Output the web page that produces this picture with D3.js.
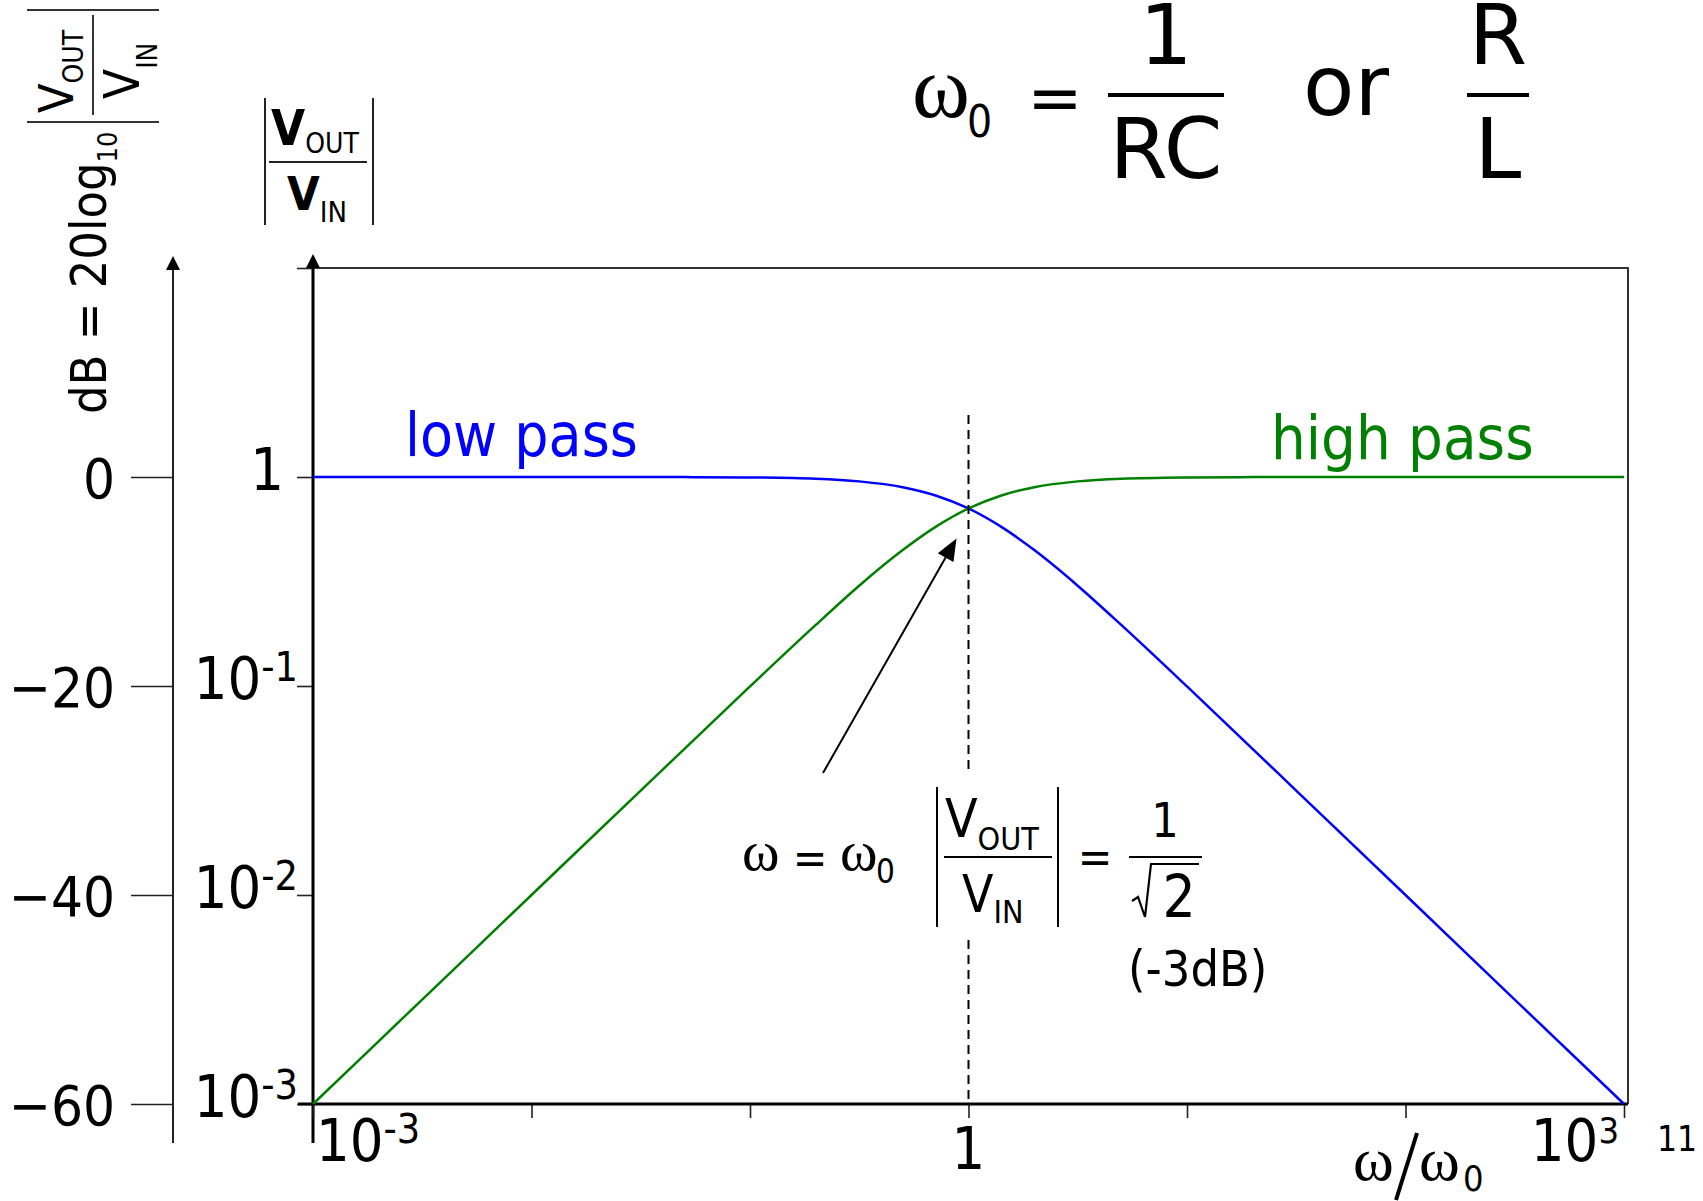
<!DOCTYPE html>
<html>
<head>
<meta charset="utf-8">
<script src="https://cdn.jsdelivr.net/npm/d3@7"></script>
<style>
  html, body { margin: 0; padding: 0; background: #fff; }
  svg { display: block; }
  text { font-stretch: condensed; }
  text.wide { font-stretch: normal; }
</style>
</head>
<body>
<script>
// Normalised frequency ω/ω0 and the magnitude |Vout/Vin| of the two first-order filters
const ratio    = [0.001, 0.00316, 0.01, 0.0316, 0.05, 0.1, 0.2, 0.316, 0.5, 0.707, 1, 1.414, 2, 3.16, 5, 10, 20, 31.6, 100, 316, 1000];
const lowPass  = [1, 1, 1, 0.9995, 0.9988, 0.995, 0.981, 0.953, 0.894, 0.816, 0.707, 0.577, 0.447, 0.302, 0.196, 0.0995, 0.0499, 0.0316, 0.01, 0.00316, 0.001];
const highPass = [0.001, 0.00316, 0.01, 0.0316, 0.0499, 0.0995, 0.196, 0.302, 0.447, 0.577, 0.707, 0.816, 0.894, 0.953, 0.981, 0.995, 0.9988, 0.9995, 1, 1, 1];

// Axis ticks and their labels
const freqTicks = [1e-3, 1e-2, 1e-1, 1, 10, 100, 1000];
const freqLabelValues = [1e-3, 1, 1000];
const freqLabelBase = ["10", "1", "10"];
const freqLabelExp = ["-3", "", "3"];

const magTicks = [1e-3, 1e-2, 1e-1, 1, 10];
const magLabelValues = [1e-3, 1e-2, 1e-1, 1];
const magLabelBase = ["10", "10", "10", "1"];
const magLabelExp = ["-3", "-2", "-1", ""];

const dbTicks = [0, -20, -40, -60];

const cornerRatio = 1;      // ω = ω0
const cornerGain = 0.707;   // 1/√2

const W = 1703, H = 1201;
const SANS = "'DejaVu Sans Condensed','DejaVu Sans',sans-serif";
const SANS_WIDE = "'DejaVu Sans',sans-serif";
const SERIF = "'Liberation Serif','DejaVu Serif',serif";
const BLUE = "#0000ff", GREEN = "#008000";

const svg = d3.select("body").append("svg")
  .attr("width", W).attr("height", H)
  .attr("viewBox", `0 0 ${W} ${H}`);
svg.append("rect").attr("width", W).attr("height", H).attr("fill", "#fff");

// Scales: log frequency, log magnitude, and the matching decibel scale
const x = d3.scaleLog().domain([1e-3, 1e3]).range([313, 1624]);
const y = d3.scaleLog().domain([1e-3, 10]).range([1104, 268]);
const db = d3.scaleLinear().domain([-60, 20]).range([1104, 268]);

const plotL = x.range()[0], plotR = 1628;
const plotT = y.range()[1], plotB = y.range()[0];

// Frame: top and right borders
svg.append("path")
  .attr("d", `M${plotL},${plotT}H${plotR}V${plotB}`)
  .attr("fill", "none").attr("stroke", "#333").attr("stroke-width", 2);

// Arrow head helper
function arrowHead(g, tipX, tipY, dx, dy, len, half) {
  const n = Math.hypot(dx, dy), ux = dx / n, uy = dy / n;
  const bx = tipX - ux * len, by = tipY - uy * len;
  g.append("path")
    .attr("d", `M${tipX},${tipY}L${bx - uy * half},${by + ux * half}L${bx + uy * half},${by - ux * half}Z`)
    .attr("fill", "#000");
  return [bx, by];
}

// ---- decibel axis (outer left)
const dbX = 173;
const dbAxis = svg.append("g")
  .attr("transform", `translate(${dbX},0)`)
  .call(d3.axisLeft(db).tickValues(dbTicks).tickSize(42).tickPadding(16).tickSizeOuter(0)
        .tickFormat(d3.format("d")));
dbAxis.select(".domain").remove();
dbAxis.selectAll(".tick line").attr("stroke", "#222").attr("stroke-width", 1.6);
dbAxis.selectAll(".tick text")
  .attr("font-family", SANS).attr("font-size", 56).attr("fill", "#000").attr("dy", "0.36em");
svg.append("line").attr("x1", dbX).attr("x2", dbX).attr("y1", 266).attr("y2", 1143)
  .attr("stroke", "#222").attr("stroke-width", 2);
arrowHead(svg, dbX, 256, 0, -1, 14, 7);

// ---- magnitude axis (plot left edge)
const magAxis = svg.append("g")
  .attr("transform", `translate(${plotL},0)`)
  .call(d3.axisLeft(y).tickValues(magTicks).tickSize(16).tickSizeOuter(0).tickFormat(""));
magAxis.select(".domain").remove();
magAxis.selectAll(".tick line").attr("stroke", "#222").attr("stroke-width", 1.6);
svg.append("line").attr("x1", plotL).attr("x2", plotL).attr("y1", 266).attr("y2", 1143)
  .attr("stroke", "#000").attr("stroke-width", 3);
arrowHead(svg, plotL, 254, 0, -1, 14, 7);

const magLabels = svg.append("g").attr("font-family", SANS).attr("fill", "#000");
magLabelValues.forEach((v, i) => {
  const t = magLabels.append("text")
    .attr("x", magLabelExp[i] ? 298 : 284)
    .attr("y", y(v) + 13)
    .attr("text-anchor", "end")
    .attr("font-size", 59);
  t.append("tspan").text(magLabelBase[i]);
  if (magLabelExp[i]) {
    t.append("tspan").attr("font-size", 41).attr("dy", -18).text(magLabelExp[i]);
  }
});

// ---- frequency axis (bottom)
const freqAxis = svg.append("g")
  .attr("transform", `translate(0,${plotB})`)
  .call(d3.axisBottom(x).tickValues(freqTicks).tickSize(14).tickSizeOuter(0).tickFormat(""));
freqAxis.select(".domain").remove();
freqAxis.selectAll(".tick line").attr("stroke", "#222").attr("stroke-width", 1.6);
svg.append("line").attr("x1", 298).attr("x2", plotR).attr("y1", plotB).attr("y2", plotB)
  .attr("stroke", "#000").attr("stroke-width", 3);

const freqLabels = svg.append("g").attr("font-family", SANS).attr("fill", "#000");
freqLabelValues.forEach((v, i) => {
  const anchor = i === 0 ? "start" : (i === freqLabelValues.length - 1 ? "end" : "middle");
  const px = i === 0 ? x(v) + 3 : (anchor === "end" ? x(v) - 5 : x(v));
  const t = freqLabels.append("text")
    .attr("x", px)
    .attr("y", freqLabelExp[i] ? 1161 : 1169)
    .attr("text-anchor", anchor)
    .attr("font-size", 59);
  t.append("tspan").text(freqLabelBase[i]);
  if (freqLabelExp[i]) {
    t.append("tspan").attr("font-size", freqLabelExp[i].length > 1 ? 41 : 36)
      .attr("dy", -18).text(freqLabelExp[i]);
  }
});

// Axis title ω/ω0
const xt = svg.append("g").attr("fill", "#000");
xt.append("text").attr("x", 1353).attr("y", 1180).attr("font-family", SERIF).attr("font-size", 62).text("ω");
xt.append("path").attr("d", "M1417,1133L1396,1200").attr("stroke", "#000").attr("stroke-width", 4);
xt.append("text").attr("x", 1419).attr("y", 1180).attr("font-family", SERIF).attr("font-size", 62).text("ω");
xt.append("text").attr("x", 1463).attr("y", 1191).attr("font-family", SANS).attr("font-size", 36).text("0");

// Page number
svg.append("text").attr("x", 1657).attr("y", 1151).attr("font-family", SANS).attr("font-size", 35)
  .attr("fill", "#000").text("11");

// ---- response curves
const line = d3.line().x(d => x(d[0])).y(d => y(d[1])).curve(d3.curveMonotoneX);
svg.append("path").datum(ratio.map((r, i) => [r, lowPass[i]]))
  .attr("d", line).attr("fill", "none").attr("stroke", BLUE).attr("stroke-width", 2.5);
svg.append("path").datum(ratio.map((r, i) => [r, highPass[i]]))
  .attr("d", line).attr("fill", "none").attr("stroke", GREEN).attr("stroke-width", 2.5);

svg.append("text").attr("x", 405).attr("y", 456).attr("font-family", SANS).attr("font-size", 60)
  .attr("fill", BLUE).text("low pass");
svg.append("text").attr("x", 1271).attr("y", 459).attr("font-family", SANS).attr("font-size", 61)
  .attr("fill", GREEN).text("high pass");

// ---- corner frequency marker
const cx = x(cornerRatio);
[[415, 773], [940, plotB]].forEach(([a, b]) => {
  svg.append("line").attr("x1", cx).attr("x2", cx).attr("y1", a).attr("y2", b)
    .attr("stroke", "#000").attr("stroke-width", 2).attr("stroke-dasharray", "9,6");
});

// Arrow pointing at the -3 dB crossing
const tip = [cx - 12, y(cornerGain) + 30];
const tail = [823, 773];
const base = arrowHead(svg, tip[0], tip[1], tip[0] - tail[0], tip[1] - tail[1], 22, 9);
svg.append("line").attr("x1", tail[0]).attr("y1", tail[1]).attr("x2", base[0]).attr("y2", base[1])
  .attr("stroke", "#000").attr("stroke-width", 2);

// Annotation: ω = ω0, |Vout/Vin| = 1/√2 (-3dB)
const ann = svg.append("g").attr("fill", "#000");
ann.append("text").attr("x", 742).attr("y", 870).attr("font-family", SERIF).attr("font-size", 57).text("ω");
ann.append("text").attr("x", 810).attr("y", 874).attr("text-anchor", "middle").attr("font-family", SANS).attr("font-size", 46).text("=");
ann.append("text").attr("x", 840).attr("y", 870).attr("font-family", SERIF).attr("font-size", 57).text("ω");
ann.append("text").attr("x", 876).attr("y", 883).attr("font-family", SANS).attr("font-size", 33).text("0");
ann.append("path").attr("d", "M937,787V927M1058,787V927M944,857H1052")
  .attr("stroke", "#000").attr("stroke-width", 2).attr("fill", "none");
const aNum = ann.append("text").attr("x", 945).attr("y", 837).attr("font-family", SANS).attr("font-size", 53);
aNum.append("tspan").text("V");
aNum.append("tspan").attr("font-size", 32).attr("dy", 13).text("OUT");
const aDen = ann.append("text").attr("x", 962).attr("y", 912).attr("font-family", SANS).attr("font-size", 51);
aDen.append("tspan").text("V");
aDen.append("tspan").attr("font-size", 32).attr("dy", 11).text("IN");
ann.append("text").attr("x", 1095).attr("y", 873).attr("text-anchor", "middle").attr("font-family", SANS).attr("font-size", 46).text("=");
ann.append("text").attr("x", 1165).attr("y", 837).attr("text-anchor", "middle").attr("font-family", SANS).attr("font-size", 48).text("1");
ann.append("path").attr("d", "M1129,857H1202").attr("stroke", "#000").attr("stroke-width", 2);
ann.append("path").attr("d", "M1132,901L1138,897L1145,917L1151,864H1199")
  .attr("stroke", "#000").attr("stroke-width", 2.2).attr("fill", "none").attr("stroke-linejoin", "miter");
ann.append("text").attr("x", 1179).attr("y", 917).attr("text-anchor", "middle").attr("font-family", SANS).attr("font-size", 58).text("2");
ann.append("text").attr("x", 1128).attr("y", 986).attr("font-family", SANS).attr("font-size", 50).text("(-3dB)");

// ---- corner frequency definition (top)
const headG = svg.append("g").attr("fill", "#000");
headG.append("text").attr("x", 912).attr("y", 117).attr("font-family", SERIF).attr("font-size", 88).text("ω");
headG.append("text").attr("x", 967).attr("y", 137).attr("font-family", SANS).attr("font-size", 44).text("0");
headG.append("text").attr("class", "wide").attr("x", 1055).attr("y", 120).attr("text-anchor", "middle").attr("font-family", SANS_WIDE).attr("font-size", 66).text("=");
headG.append("text").attr("class", "wide").attr("x", 1166).attr("y", 64).attr("text-anchor", "middle").attr("font-family", SANS_WIDE).attr("font-size", 84).text("1");
headG.append("path").attr("d", "M1108,95H1224").attr("stroke", "#000").attr("stroke-width", 4);
headG.append("text").attr("class", "wide").attr("x", 1166).attr("y", 178).attr("text-anchor", "middle").attr("font-family", SANS_WIDE).attr("font-size", 84).text("RC");
headG.append("text").attr("class", "wide").attr("x", 1303).attr("y", 115).attr("font-family", SANS_WIDE).attr("font-size", 84).text("or");
headG.append("text").attr("class", "wide").attr("x", 1498).attr("y", 64).attr("text-anchor", "middle").attr("font-family", SANS_WIDE).attr("font-size", 84).text("R");
headG.append("path").attr("d", "M1467,95H1529").attr("stroke", "#000").attr("stroke-width", 4);
headG.append("text").attr("class", "wide").attr("x", 1498).attr("y", 178).attr("text-anchor", "middle").attr("font-family", SANS_WIDE).attr("font-size", 84).text("L");

// ---- magnitude axis title |Vout/Vin|
const mt = svg.append("g").attr("fill", "#000");
mt.append("path").attr("d", "M265,98V225M373,98V225M269,162H367")
  .attr("stroke", "#222").attr("stroke-width", 2).attr("fill", "none");
const mNum = mt.append("text").attr("x", 271).attr("y", 145).attr("font-family", SANS).attr("font-size", 49);
mNum.append("tspan").attr("font-weight", "bold").text("V");
mNum.append("tspan").attr("font-size", 28).attr("dy", 8).text("OUT");
const mDen = mt.append("text").attr("x", 287).attr("y", 210).attr("font-family", SANS).attr("font-size", 47);
mDen.append("tspan").attr("font-weight", "bold").text("V");
mDen.append("tspan").attr("font-size", 29).attr("dy", 12).text("IN");

// ---- decibel axis title, rotated: dB = 20log10|Vout/Vin|
const rt = svg.append("g").attr("transform", "rotate(-90)").attr("fill", "#000");
const dbt = rt.append("text").attr("x", -414).attr("y", 106).attr("font-family", SANS).attr("font-size", 50);
dbt.append("tspan").text("dB = 20log");
dbt.append("tspan").attr("font-size", 27).attr("dy", 11).text("10");
rt.append("path").attr("d", "M-122,27V159M-10,27V159M-115,93H-15")
  .attr("stroke", "#333").attr("stroke-width", 2).attr("fill", "none");
const rNum = rt.append("text").attr("x", -113).attr("y", 73).attr("font-family", SANS).attr("font-size", 48);
rNum.append("tspan").text("V");
rNum.append("tspan").attr("font-size", 28).attr("dy", 10).text("OUT");
const rDen = rt.append("text").attr("x", -99).attr("y", 139).attr("font-family", SANS).attr("font-size", 49);
rDen.append("tspan").text("V");
rDen.append("tspan").attr("font-size", 28).attr("dy", 18).text("IN");
</script>
</body>
</html>
